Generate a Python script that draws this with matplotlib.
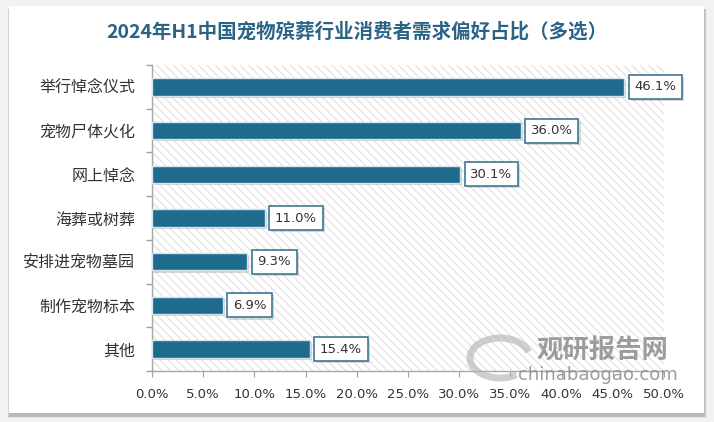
import matplotlib
matplotlib.use("Agg")
import matplotlib.pyplot as plt
import matplotlib.patches as mpatches
import matplotlib.patheffects as pe
import numpy as np

categories = ["举行悼念仪式", "宠物尸体火化", "网上悼念", "海葬或树葬", "安排进宠物墓园", "制作宠物标本", "其他"]
values = [46.1, 36.0, 30.1, 11.0, 9.3, 6.9, 15.4]
xticks = [0, 5, 10, 15, 20, 25, 30, 35, 40, 45, 50]
xtick_labels = ["0.0%", "5.0%", "10.0%", "15.0%", "20.0%", "25.0%", "30.0%", "35.0%", "40.0%", "45.0%", "50.0%"]
title = "2024年H1中国宠物殡葬行业消费者需求偏好占比（多选）"

cjk = ["Noto Sans CJK SC", "DejaVu Sans"]
plt.rcParams['font.family'] = cjk
plt.rcParams['hatch.linewidth'] = 0.7

fig = plt.figure(figsize=(7.14, 4.22), dpi=100)
fig.patch.set_facecolor("#f2f2f2")

# card with soft shadow
for i, a in enumerate([0.05, 0.08, 0.12]):
    d = (3 - i) / 714
    fig.patches.append(mpatches.Rectangle((9/714 - d*0.3, 6/422 - d), 695/714 + d*1.3, 407/422 + d,
                                          transform=fig.transFigure, facecolor="#000000", alpha=a,
                                          edgecolor="none", zorder=-3))
fig.patches.append(mpatches.Rectangle((9/714, 1 - 413/422), 695/714, 407/422,
                                      transform=fig.transFigure, facecolor="white",
                                      edgecolor="none", zorder=-2))

ax = fig.add_axes([152/714, 1 - 371/422, 512/714, 306/422])
ax.set_facecolor("none")
ax.add_patch(mpatches.Rectangle((0, 0), 1, 1, transform=ax.transAxes, facecolor="white",
                                edgecolor="#dcdcdc", hatch="\\\\\\\\", lw=0, zorder=0))

y = np.arange(len(categories))
bars = ax.barh(y, values, height=0.4, color="#1f6b8e", edgecolor="#d3e4ee", linewidth=1, zorder=3)
for b in bars:
    b.set_path_effects([pe.SimplePatchShadow(offset=(1.5, -1.5), shadow_rgbFace="#888888", alpha=0.35),
                        pe.Normal()])

for yi, v in zip(y, values):
    t = ax.text(v + 1.0, yi, f"{v:.1f}%", va="center", ha="left", fontsize=9.5,
                family="DejaVu Sans", color="#333333", zorder=5,
                bbox=dict(boxstyle="square,pad=0.42", facecolor="white", edgecolor="#3c7893", linewidth=1.2))
    t.get_bbox_patch().set_path_effects([pe.SimplePatchShadow(offset=(1.5, -1.5), shadow_rgbFace="#888888", alpha=0.3),
                                         pe.Normal()])

ax.set_xlim(0, 50)
ax.set_ylim(len(categories) - 0.5, -0.5)
ax.set_xticks(xticks)
ax.set_xticklabels(xtick_labels, family="DejaVu Sans", fontsize=9.5, color="#333333")
ax.set_yticks(np.arange(len(categories) + 1) - 0.5)
ax.set_yticklabels([])
ax.set_yticks(y, minor=True)
ax.set_yticklabels(categories, minor=True, fontsize=11.5, color="#333333")
ax.tick_params(axis="y", which="major", length=4, color="#a0a0a0", width=1)
ax.tick_params(axis="y", which="minor", length=0, pad=12)
ax.tick_params(axis="x", length=4, color="#a0a0a0", pad=8)
for s in ["top", "right"]:
    ax.spines[s].set_visible(False)
for s in ["left", "bottom"]:
    ax.spines[s].set_color("#a8a8a8")
    ax.spines[s].set_linewidth(1)

fig.text(357/714, 1 - 32/422, title, ha="center", va="center", fontsize=14,
         fontweight="bold", color="#2b6386")

# watermark
fig.text(602/714, 1 - 351/422, "观研报告网", ha="center", va="center", fontsize=19,
         fontweight="bold", color="#8c8c8c", alpha=0.85)
fig.text(598/714, 1 - 375/422, "chinabaogao.com", ha="center", va="center", fontsize=13,
         family="DejaVu Sans", color="#8c8c8c", alpha=0.85)
fig.patches.append(mpatches.Arc((500/714, 1 - 358/422), 60/714, 40/422, theta1=20, theta2=300,
                                transform=fig.transFigure, color="#b0b0b0", lw=5, alpha=0.6))

fig.savefig("out.png", dpi=100)
